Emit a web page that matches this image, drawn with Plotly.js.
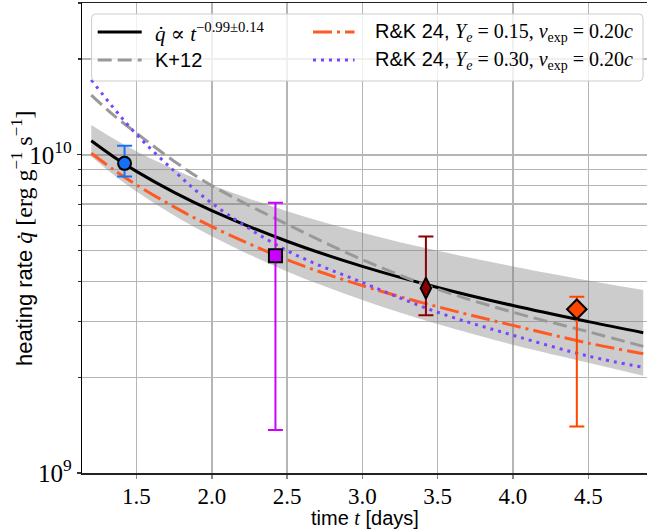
<!DOCTYPE html>
<html>
<head>
<meta charset="utf-8">
<script src="https://cdn.plot.ly/plotly-3.0.1.min.js"></script>
<style>
  html, body { margin: 0; padding: 0; background: #ffffff; }
  #chart { width: 647px; height: 529px; }
</style>
</head>
<body>
<div id="chart"></div>
<script>
// Model time grid (days)
const tModel = [1.2, 1.35, 1.5, 1.75, 2.0, 2.5, 3.0, 3.5, 4.0, 4.5, 4.865];

// Power-law fit q ∝ t^(-0.99 ± 0.14) and its uncertainty band (erg/g/s)
const fitQ   = [1.107e10, 9.85e9, 8.87e9, 7.62e9, 6.68e9, 5.35e9, 4.46e9, 3.83e9, 3.36e9, 2.99e9, 2.76e9];
const fitHi  = [1.241e10, 1.123e10, 1.026e10, 9.01e9, 8.04e9, 6.65e9, 5.69e9, 4.99e9, 4.46e9, 4.03e9, 3.76e9];
const fitLo  = [9.88e9, 8.64e9, 7.67e9, 6.45e9, 5.55e9, 4.30e9, 3.50e9, 2.94e9, 2.53e9, 2.22e9, 2.02e9];

// Korobkin+12 heating rate
const k12Q   = [1.54e10, 1.33e10, 1.17e10, 9.55e9, 8.0e9, 6.05e9, 4.68e9, 3.78e9, 3.20e9, 2.78e9, 2.50e9];

// Rosswog & Korobkin 24 models
const rk15Q  = [1.011e10, 8.97e9, 8.05e9, 6.86e9, 5.95e9, 4.68e9, 3.88e9, 3.33e9, 2.91e9, 2.56e9, 2.37e9];
const rk30Q  = [1.72e10, 1.40e10, 1.16e10, 8.9e9, 7.05e9, 5.0e9, 3.97e9, 3.2e9, 2.71e9, 2.33e9, 2.15e9];

// Measured heating rates with bounds
const obsT   = [1.421, 2.423, 3.422, 4.424];
const obsQ   = [9.4e9, 4.82e9, 3.81e9, 3.27e9];
const obsHi  = [1.067e10, 7.07e9, 5.54e9, 3.58e9];
const obsLo  = [8.55e9, 1.365e9, 3.13e9, 1.40e9];

// Axis ticks
const xTicks = [1.5, 2.0, 2.5, 3.0, 3.5, 4.0, 4.5];
const xTickText = ['1.5', '2.0', '2.5', '3.0', '3.5', '4.0', '4.5'];
const yTicks = [1e9, 1e10];
const yTickText = ['10<sup>9</sup>', '10<sup>10</sup>'];
const yMinor = [2e9, 3e9, 4e9, 5e9, 6e9, 7e9, 8e9, 9e9, 2e10, 3e10];

// Text helpers: sans body text with serif math
const serif = "'Liberation Serif', 'DejaVu Serif', serif";
const sans = "'Liberation Sans', Arial, sans-serif";
const m = (s, size) => `<span style="font-family:${serif}${size ? ';font-size:' + size + 'px' : ''}">${s}</span>`;
const legendLabels = [
  m('<i>q̇</i> ∝ <i>t</i><sup>−0.99±0.14</sup>', 21),
  'K+12',
  'R&amp;K 24, ' + m('<i>Y<sub>e</sub></i> = 0.15, <i>v</i><sub>exp</sub> = 0.20<i>c</i>'),
  'R&amp;K 24, ' + m('<i>Y<sub>e</sub></i> = 0.30, <i>v</i><sub>exp</sub> = 0.20<i>c</i>')
];
const xTitle = 'time ' + m('<i>t</i>') + ' [days]';
const yTitle = 'heating rate ' + m('<i>q̇</i> [erg g<sup>−1</sup> s<sup>−1</sup>]', 24);

// Styles
const C = {
  fit: '#000000', k12: '#999999', rk15: '#ff5a26', rk30: '#7a45ff',
  band: 'rgba(128,128,128,0.40)', grid: '#b5b5b5'
};
const obsColors = ['#1670f5', '#cc00ff', '#8b0000', '#ff4500'];
const obsSymbols = ['circle', 'square', 'diamond-tall', 'diamond'];
const obsSizes = [13, 13, 15, 15];

const W = 647, H = 529;
const M = { l: 82, r: 0, t: 3, b: 56 };
const PW = W - M.l - M.r, PH = H - M.t - M.b;
const px = x => (x - M.l) / PW;
const py = y => (H - M.b - y) / PH;

const dashK12 = '14px,6px';
const dashRK15 = '19px,5px,3px,5px';
const dashRK30 = '3px,5px';

const traces = [
  { x: tModel, y: fitHi, mode: 'lines', line: { width: 0, shape: 'spline' },
    showlegend: false, hoverinfo: 'skip' },
  { x: tModel, y: fitLo, mode: 'lines', line: { width: 0, shape: 'spline' },
    fill: 'tonexty', fillcolor: C.band, showlegend: false, hoverinfo: 'skip' },
  { x: tModel, y: fitQ, mode: 'lines', name: 'fit',
    line: { color: C.fit, width: 3, shape: 'spline' } },
  { x: tModel, y: k12Q, mode: 'lines', name: 'K+12',
    line: { color: C.k12, width: 3, dash: dashK12, shape: 'spline' } },
  { x: tModel, y: rk15Q, mode: 'lines', name: 'RK24 0.15',
    line: { color: C.rk15, width: 3, dash: dashRK15, shape: 'spline' } },
  { x: tModel, y: rk30Q, mode: 'lines', name: 'RK24 0.30',
    line: { color: C.rk30, width: 3, dash: dashRK30, shape: 'spline' } }
];

obsT.forEach((t, i) => {
  traces.push({
    x: [t], y: [obsQ[i]], mode: 'markers', showlegend: false,
    marker: { symbol: obsSymbols[i], size: obsSizes[i], color: obsColors[i],
              line: { color: '#000000', width: 2 } },
    error_y: { type: 'data', symmetric: false,
               array: [obsHi[i] - obsQ[i]], arrayminus: [obsQ[i] - obsLo[i]],
               color: obsColors[i], thickness: 2, width: 7.5 }
  });
});

// Legend box and sample lines
const boxL = 91.6, boxR = 643, boxT = 14, boxB = 81, rad = 4;
const rx = rad / PW, ry = rad / PH;
const bl = px(boxL), br = px(boxR), bt = py(boxT), bb = py(boxB);
const boxPath = `M${bl + rx},${bt} L${br - rx},${bt} Q${br},${bt} ${br},${bt - ry} ` +
  `L${br},${bb + ry} Q${br},${bb} ${br - rx},${bb} L${bl + rx},${bb} ` +
  `Q${bl},${bb} ${bl},${bb + ry} L${bl},${bt - ry} Q${bl},${bt} ${bl + rx},${bt} Z`;

const rows = [32, 60];
const cols = [{ l0: 97.7, l1: 141.7, tx: 152.5 }, { l0: 313, l1: 354.5, tx: 372.5 }];
const legendItems = [
  { col: 0, row: 0, color: C.fit, dash: 'solid', label: legendLabels[0] },
  { col: 0, row: 1, color: C.k12, dash: dashK12, label: legendLabels[1] },
  { col: 1, row: 0, color: C.rk15, dash: dashRK15, label: legendLabels[2] },
  { col: 1, row: 1, color: C.rk30, dash: dashRK30, label: legendLabels[3] }
];

const shapes = [{
  type: 'path', xref: 'paper', yref: 'paper', path: boxPath, layer: 'above',
  fillcolor: 'rgba(255,255,255,0.8)', line: { color: '#cccccc', width: 1 }
}];
const annotations = [];
legendItems.forEach(it => {
  const c = cols[it.col], y = rows[it.row];
  shapes.push({
    type: 'line', xref: 'paper', yref: 'paper', layer: 'above',
    x0: px(c.l0), x1: px(c.l1), y0: py(y), y1: py(y),
    line: { color: it.color, width: 3, dash: it.dash }
  });
  annotations.push({
    xref: 'paper', yref: 'paper', x: px(c.tx), y: py(y),
    xanchor: 'left', yanchor: 'middle', showarrow: false,
    text: it.label, font: { family: sans, size: 20, color: '#000000' }
  });
});

// Axis titles
annotations.push({
  xref: 'paper', yref: 'paper', x: px(364.5), y: py(517.5),
  xanchor: 'center', yanchor: 'middle', showarrow: false,
  text: xTitle, font: { family: sans, size: 20, color: '#000000' }
});
annotations.push({
  xref: 'paper', yref: 'paper', x: px(22), y: py(238), textangle: -90,
  xanchor: 'center', yanchor: 'middle', showarrow: false,
  text: yTitle, font: { family: sans, size: 22, color: '#000000' }
});

const layout = {
  width: W, height: H, margin: M,
  paper_bgcolor: '#ffffff', plot_bgcolor: '#ffffff',
  showlegend: false,
  xaxis: {
    range: [1.1385, 4.89], tickmode: 'array', tickvals: xTicks, ticktext: xTickText,
    tickfont: { family: serif, size: 23, color: '#000000' }, ticklabelstandoff: -2,
    showgrid: true, gridcolor: C.grid, gridwidth: 1.5, zeroline: false,
    showline: true, linecolor: '#222222', linewidth: 1.5, mirror: true,
    ticks: 'outside', ticklen: 4, tickcolor: '#888888', tickwidth: 1.5,
    automargin: false
  },
  yaxis: {
    type: 'log', range: [9, 10.4771], tickmode: 'array', tickvals: yTicks, ticktext: yTickText,
    tickfont: { family: serif, size: 25, color: '#000000' },
    showgrid: true, gridcolor: C.grid, gridwidth: 1.5, zeroline: false,
    showline: true, linecolor: '#000000', linewidth: 1.2,
    ticks: 'outside', ticklen: 4, tickcolor: '#333333', tickwidth: 1.2,
    minor: { tickmode: 'array', tickvals: yMinor, showgrid: true, gridcolor: C.grid,
             gridwidth: 1.3, ticks: 'outside', ticklen: 2.5, tickcolor: '#333333' },
    automargin: false
  },
  shapes: shapes,
  annotations: annotations
};

Plotly.newPlot('chart', traces, layout, { staticPlot: true, displayModeBar: false });
</script>
</body>
</html>
